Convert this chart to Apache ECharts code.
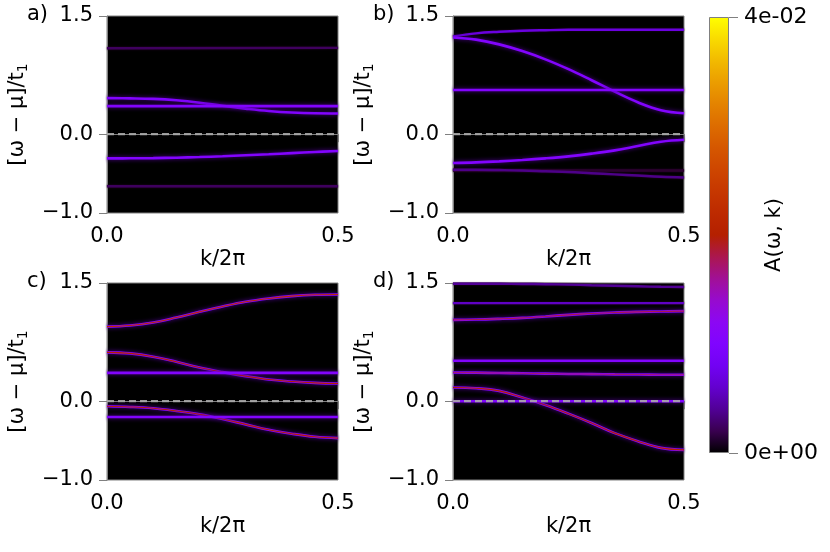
<!DOCTYPE html>
<html>
<head>
<meta charset="utf-8">
<script src="https://cdn.jsdelivr.net/npm/echarts@6/dist/echarts.min.js"></script>
<style>
  html, body { margin: 0; padding: 0; background: #fff; }
  #chart { width: 830px; height: 552px; }
</style>
</head>
<body>
<div id="chart"></div>
<script>
// k/2pi sample points
const kGrid = [0, 0.05, 0.1, 0.15, 0.2, 0.25, 0.3, 0.35, 0.4, 0.45, 0.5];
const kEnds = [0, 0.5];

// panel a)
const aFaintTop = [1.09, 1.095];
const aUpper = [0.458, 0.455, 0.448, 0.43, 0.40, 0.36, 0.325, 0.295, 0.275, 0.265, 0.263];
const aFlat = [0.356, 0.356];
const aLower = [-0.307, -0.306, -0.303, -0.298, -0.29, -0.28, -0.268, -0.255, -0.24, -0.225, -0.213];
const aFaintBottom = [-0.66, -0.66];

// panel b)
const bTop = [1.24, 1.28, 1.30, 1.313, 1.32, 1.325, 1.326, 1.326, 1.326, 1.326, 1.326];
const bMain = [1.228, 1.20, 1.14, 1.055, 0.95, 0.825, 0.685, 0.54, 0.405, 0.305, 0.265];
const bFlat = [0.56, 0.56];
const bLower = [-0.366, -0.358, -0.345, -0.328, -0.307, -0.281, -0.247, -0.205, -0.15, -0.095, -0.07];
const bFaint = [-0.452, -0.452, -0.455, -0.46, -0.47, -0.48, -0.495, -0.51, -0.525, -0.54, -0.549];
const bFaintFlat = [-0.46, -0.46];

// panel c)
const cTop = [0.947, 0.96, 0.998, 1.062, 1.134, 1.202, 1.262, 1.304, 1.334, 1.351, 1.355];
const cMid = [0.62, 0.607, 0.565, 0.50, 0.428, 0.369, 0.318, 0.275, 0.25, 0.233, 0.224];
const cFlatUp = [0.36, 0.36];
const cLow = [-0.065, -0.073, -0.09, -0.124, -0.167, -0.226, -0.294, -0.362, -0.413, -0.452, -0.469];
const cFlatLow = [-0.2, -0.2];

// panel d)
const dTop = [1.49, 1.49, 1.49, 1.488, 1.485, 1.48, 1.472, 1.465, 1.458, 1.452, 1.45];
const dUpperFlat = [1.245, 1.245];
const dMain = [1.032, 1.036, 1.045, 1.057, 1.075, 1.096, 1.113, 1.126, 1.134, 1.139, 1.143];
const dFlat = [0.514, 0.514];
const dSide = [0.365, 0.362, 0.358, 0.354, 0.35, 0.346, 0.343, 0.34, 0.338, 0.336, 0.335];
const dDown = [0.173, 0.165, 0.131, 0.046, -0.048, -0.158, -0.277, -0.405, -0.507, -0.592, -0.618];
const dZero = [0, 0];

// peak intensity of each band, as a fraction of the colorbar max
const panelA = [[aFaintTop, 0.06], [aUpper, 0.27], [aFlat, 0.27], [aLower, 0.27], [aFaintBottom, 0.06]];
const panelB = [[bFaintFlat, 0.03], [bFaint, 0.09], [bTop, 0.17], [bMain, 0.27], [bFlat, 0.27], [bLower, 0.27]];
const panelC = [[cTop, 0.55], [cMid, 0.5], [cFlatUp, 0.27], [cLow, 0.5], [cFlatLow, 0.27]];
const panelD = [[dTop, 0.1], [dUpperFlat, 0.14], [dMain, 0.45], [dFlat, 0.27], [dSide, 0.42], [dDown, 0.5], [dZero, 0.25]];
const panels = [panelA, panelB, panelC, panelD];
const panelLabels = ['a)', 'b)', 'c)', 'd)'];

const yTicks = [-1, 0, 1.5];
const xTicks = [0, 0.5];
const cbarMax = 0.04;
const cbarTicks = [0, 0.04];

// matplotlib "gnuplot" colormap
function gnuplot(t) {
  let r = Math.sqrt(t), g = t * t * t, b = Math.max(0, Math.min(1, Math.sin(2 * Math.PI * t)));
  return 'rgb(' + Math.round(r * 255) + ',' + Math.round(g * 255) + ',' + Math.round(b * 255) + ')';
}
function sci(v) {
  if (v === 0) return '0e+00';
  let e = Math.floor(Math.log10(Math.abs(v)));
  let m = Math.round(v / Math.pow(10, e));
  let s = e < 0 ? '-' : '+';
  return m + 'e' + s + String(Math.abs(e)).padStart(2, '0');
}
function fmtTick(v) {
  return (v < 0 ? '\u2212' : '') + Math.abs(v).toFixed(1);
}

const font = 'DejaVu Sans';
const gray = '#808080';
const fs = 21;
const grids = [
  { left: 107, top: 16, width: 231, height: 197 },
  { left: 453, top: 16, width: 231, height: 197 },
  { left: 107, top: 283, width: 231, height: 197 },
  { left: 453, top: 283, width: 231, height: 197 }
];

let option = {
  animation: false,
  backgroundColor: '#fff',
  textStyle: { fontFamily: font },
  title: [],
  grid: [],
  xAxis: [],
  yAxis: [],
  series: []
};

grids.forEach((g, i) => {
  option.grid.push(Object.assign({
    show: true, backgroundColor: '#000', borderColor: gray, borderWidth: 1
  }, g));
  option.title.push({
    text: panelLabels[i], left: g.left - 80, top: g.top - 12, padding: 0,
    textStyle: { fontFamily: font, fontSize: fs, fontWeight: 'normal', color: '#000' }
  });
  option.xAxis.push({
    type: 'value', gridIndex: i, min: 0, max: 0.5,
    name: 'k/2\u03c0', nameLocation: 'middle', nameGap: 36, nameMoveOverlap: false,
    nameTextStyle: { fontFamily: font, fontSize: fs, color: '#000' },
    axisLine: { show: true, lineStyle: { color: gray } },
    axisTick: { show: true, length: 8, customValues: xTicks, lineStyle: { color: gray } },
    axisLabel: { customValues: xTicks, margin: 13, fontSize: fs, color: '#000', fontFamily: font,
      formatter: fmtTick },
    splitLine: { show: false }
  });
  option.yAxis.push({
    type: 'value', gridIndex: i, min: -1, max: 1.5,
    name: '[\u03c9 \u2212 \u03bc]/t{s|1}', nameLocation: 'middle', nameGap: 77, nameRotate: 90,
    nameMoveOverlap: false,
    nameTextStyle: { fontFamily: font, fontSize: fs, color: '#000',
      rich: { s: { fontFamily: font, fontSize: 14, color: '#000', verticalAlign: 'bottom', padding: [10, 0, 0, 0] } } },
    axisLine: { show: true, lineStyle: { color: gray } },
    axisTick: { show: true, length: 8, customValues: yTicks, lineStyle: { color: gray } },
    axisLabel: { customValues: yTicks, margin: 14, fontSize: fs, color: '#000', fontFamily: font,
      formatter: fmtTick },
    splitLine: { show: false }
  });

  panels[i].forEach(([ws, level]) => {
    let ks = ws.length === 2 ? kEnds : kGrid;
    let pts = ws.map((w, j) => [ks[j], w]);
    let strong = level >= 0.2;
    option.series.push({
      type: 'line', xAxisIndex: i, yAxisIndex: i, data: pts, smooth: 0.4,
      symbol: 'none', silent: true,
      lineStyle: {
        width: strong ? 2.6 : 2.4,
        color: gnuplot(Math.min(level, 0.26)),
        shadowBlur: strong ? 4 : 2, shadowColor: gnuplot(strong ? 0.1 : 0.03)
      }
    });
    if (level > 0.3) {
      option.series.push({
        type: 'line', xAxisIndex: i, yAxisIndex: i, data: pts, smooth: 0.4,
        symbol: 'none', silent: true,
        lineStyle: { width: 1.1, color: gnuplot(level) }
      });
    }
  });
  // dashed chemical-potential line
  option.series.push({
    type: 'line', xAxisIndex: i, yAxisIndex: i, data: [[0, 0], [0.5, 0]],
    symbol: 'none', silent: true,
    lineStyle: { width: 2.2, color: 'rgba(170,170,170,0.9)', type: [7, 4] }
  });
});

// colorbar
option.grid.push({ left: 709, top: 17, width: 20, height: 436, show: false });
option.xAxis.push({ type: 'category', gridIndex: 4, data: [''], show: false });
option.yAxis.push({
  type: 'value', gridIndex: 4, position: 'right', min: 0, max: cbarMax,
  name: 'A(\u03c9, k)', nameLocation: 'middle', nameGap: 35, nameRotate: 90, nameMoveOverlap: false,
  nameTextStyle: { fontFamily: font, fontSize: fs, color: '#000' },
  axisLine: { show: false },
  axisTick: { show: true, length: 9, customValues: cbarTicks, lineStyle: { color: gray } },
  axisLabel: { customValues: cbarTicks, margin: 15, fontSize: 22, color: '#000', fontFamily: font, formatter: sci },
  splitLine: { show: false }
});
let stops = [];
for (let j = 0; j <= 20; j++) stops.push({ offset: j / 20, color: gnuplot(j / 20) });
option.series.push({
  type: 'bar', xAxisIndex: 4, yAxisIndex: 4, data: [cbarMax], barWidth: '100%', silent: true,
  itemStyle: {
    color: new echarts.graphic.LinearGradient(0, 1, 0, 0, stops),
    borderColor: gray, borderWidth: 1
  }
});

const chart = echarts.init(document.getElementById('chart'), null, { renderer: 'canvas' });
chart.setOption(option);
</script>
</body>
</html>
